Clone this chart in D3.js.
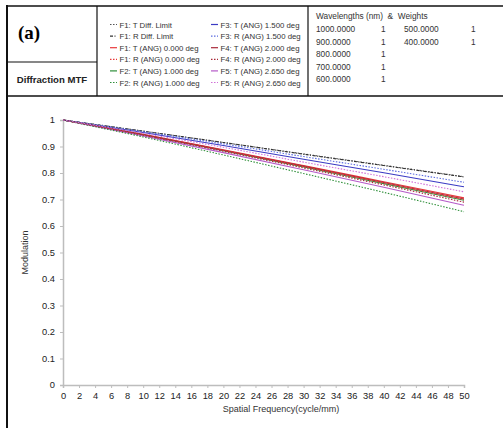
<!DOCTYPE html>
<html>
<head>
<meta charset="utf-8">
<script src="https://cdn.jsdelivr.net/npm/d3@7"></script>
<style>
  body { margin: 0; background: #fff; }
  svg { display: block; font-family: Arial, "Liberation Sans", sans-serif; }
</style>
</head>
<body>
<svg id="chart"></svg>
<script>
/*
Data
*/

// spatial frequencies (cycle/mm) the curves are sampled at
const freqs = [0, 10, 20, 30, 40, 50];

// series names, as written in the legend
const seriesNames = [
  "F1: T Diff. Limit", "F1: R Diff. Limit",
  "F1: T (ANG) 0.000 deg", "F1: R (ANG) 0.000 deg",
  "F2: T (ANG) 1.000 deg", "F2: R (ANG) 1.000 deg",
  "F3: T (ANG) 1.500 deg", "F3: R (ANG) 1.500 deg",
  "F4: T (ANG) 2.000 deg", "F4: R (ANG) 2.000 deg",
  "F5: T (ANG) 2.650 deg", "F5: R (ANG) 2.650 deg"
];

// modulation values, one row per series
const diffT = [1, 0.958, 0.915, 0.872, 0.829, 0.786];
const diffR = [1, 0.958, 0.915, 0.871, 0.828, 0.785];
const f1T   = [1, 0.946, 0.888, 0.828, 0.767, 0.706];
const f1R   = [1, 0.944, 0.885, 0.824, 0.762, 0.700];
const f2T   = [1, 0.944, 0.884, 0.823, 0.760, 0.697];
const f2R   = [1, 0.936, 0.868, 0.798, 0.727, 0.654];
const f3T   = [1, 0.953, 0.904, 0.852, 0.801, 0.748];
const f3R   = [1, 0.956, 0.910, 0.862, 0.814, 0.765];
const f4T   = [1, 0.945, 0.886, 0.826, 0.764, 0.702];
const f4R   = [1, 0.943, 0.882, 0.819, 0.755, 0.690];
const f5T   = [1, 0.940, 0.877, 0.812, 0.746, 0.678];
const f5R   = [1, 0.950, 0.897, 0.841, 0.786, 0.729];

const seriesValues = [diffT, diffR, f1T, f1R, f2T, f2R, f3T, f3R, f4T, f4R, f5T, f5R];

// wavelength table
const wavelengths = ["1000.0000", "900.0000", "800.0000", "700.0000", "600.0000", "500.0000", "400.0000"];
const weights     = [1, 1, 1, 1, 1, 1, 1];

// tick labels
const xTicks = d3.range(0, 51, 2);
const yTicks = [0, 0.1, 0.2, 0.3, 0.4, 0.5, 0.6, 0.7, 0.8, 0.9, 1];

/*
Styles
*/

const colors = ["#555555", "#333333", "#e8383a", "#e8383a", "#2f8f3a", "#2f8f3a",
                "#3b3bc4", "#5a6be0", "#a82838", "#a82838", "#b55ac8", "#d070d8"];
const dashes = ["1.5,1.5", "3,1.5,1,1.5", null, "1.5,1.5", null, "1.5,1.5",
                null, "1.5,1.5", null, "1.5,1.5", null, "1.5,1.5"];

const width = 503, height = 428;
const plot = { left: 63, right: 464, top: 120, bottom: 385 };

const svg = d3.select("#chart")
  .attr("width", width)
  .attr("height", height)
  .attr("viewBox", "0 0 " + width + " " + height);

/*
Header box
*/

const frame = svg.append("g").attr("fill", "none").attr("stroke", "#111");
frame.append("line").attr("x1", 7).attr("x2", 7).attr("y1", 5).attr("y2", height).attr("stroke-width", 2);
frame.append("line").attr("x1", 6).attr("x2", width).attr("y1", 6).attr("y2", 6).attr("stroke-width", 1.5);
frame.append("line").attr("x1", 6).attr("x2", width).attr("y1", 96).attr("y2", 96).attr("stroke-width", 1.5);
frame.append("line").attr("x1", 97).attr("x2", 97).attr("y1", 6).attr("y2", 96).attr("stroke-width", 1.2);
frame.append("line").attr("x1", 308).attr("x2", 308).attr("y1", 6).attr("y2", 96).attr("stroke-width", 1.2);
frame.append("line").attr("x1", 7).attr("x2", 97).attr("y1", 62).attr("y2", 62).attr("stroke-width", 1.2);

svg.append("text")
  .attr("x", 18).attr("y", 39)
  .attr("font-family", "'Liberation Serif', 'Times New Roman', serif")
  .attr("font-weight", "bold").attr("font-size", 19)
  .text("(a)");

svg.append("text")
  .attr("x", 52).attr("y", 83)
  .attr("text-anchor", "middle")
  .attr("font-weight", "bold").attr("font-size", 9.6)
  .attr("fill", "#222")
  .text("Diffraction MTF");

// legend, two columns of six
const legend = svg.append("g").attr("font-size", 7.8).attr("fill", "#333");
seriesNames.forEach((name, i) => {
  const col = Math.floor(i / 6), row = i % 6;
  const lx = col === 0 ? 110 : 211;
  const ly = 27.5 + row * 11.6;
  legend.append("line")
    .attr("x1", lx).attr("x2", lx + 7)
    .attr("y1", ly - 3).attr("y2", ly - 3)
    .attr("stroke", colors[i])
    .attr("stroke-width", 1.2)
    .attr("stroke-dasharray", dashes[i]);
  legend.append("text")
    .attr("x", lx + 9.5).attr("y", ly)
    .text(name);
});

// wavelength table
const wl = svg.append("g").attr("font-size", 8.3).attr("fill", "#333");
wl.append("text").attr("x", 316).attr("y", 19).attr("xml:space", "preserve")
  .text("Wavelengths (nm)  &  Weights");
wavelengths.forEach((w, i) => {
  const col = i < 5 ? 0 : 1, row = i < 5 ? i : i - 5;
  const yy = 32 + row * 12.6;
  wl.append("text").attr("x", col === 0 ? 316 : 404).attr("y", yy).text(w);
  wl.append("text").attr("x", col === 0 ? 381 : 471).attr("y", yy).text(weights[i]);
});

/*
Plot
*/

const x = d3.scaleLinear().domain([0, 50]).range([plot.left, plot.right]);
const y = d3.scaleLinear().domain([0, 1]).range([plot.bottom, plot.top]);

const xAxis = svg.append("g")
  .attr("transform", "translate(0," + plot.bottom + ")")
  .call(d3.axisBottom(x).tickValues(xTicks).tickSize(3).tickPadding(4).tickFormat(d3.format("d")));

const yAxis = svg.append("g")
  .attr("transform", "translate(" + plot.left + ",0)")
  .call(d3.axisLeft(y).tickValues(yTicks).tickSize(3).tickPadding(5).tickFormat(d => d === 0 || d === 1 ? d : d3.format(".1f")(d)));

[xAxis, yAxis].forEach(ax => {
  ax.select(".domain").attr("stroke", "#bdbdbd").attr("stroke-width", 1.5);
  ax.selectAll(".tick line").attr("stroke", "#bdbdbd");
  ax.selectAll(".tick text")
    .attr("fill", "#222")
    .attr("font-size", 9.3)
    .attr("font-family", "Arial, 'Liberation Sans', sans-serif");
});

svg.append("text")
  .attr("transform", "translate(28," + ((plot.top + plot.bottom) / 2) + ") rotate(-90)")
  .attr("text-anchor", "middle")
  .attr("font-size", 9).attr("fill", "#333")
  .text("Modulation");

svg.append("text")
  .attr("x", 281).attr("y", 412)
  .attr("text-anchor", "middle")
  .attr("font-size", 9).attr("fill", "#333")
  .text("Spatial Frequency(cycle/mm)");

const line = d3.line()
  .x((d, i) => x(freqs[i]))
  .y(d => y(d))
  .curve(d3.curveMonotoneX);

// draw solid lines first, dotted on top
const order = d3.range(seriesValues.length).sort((a, b) => (dashes[a] ? 1 : 0) - (dashes[b] ? 1 : 0));

svg.append("g")
  .attr("fill", "none")
  .selectAll("path")
  .data(order)
  .enter()
  .append("path")
  .attr("d", i => line(seriesValues[i]))
  .attr("stroke", i => colors[i])
  .attr("stroke-width", 1.1)
  .attr("stroke-dasharray", i => dashes[i]);
</script>
</body>
</html>
